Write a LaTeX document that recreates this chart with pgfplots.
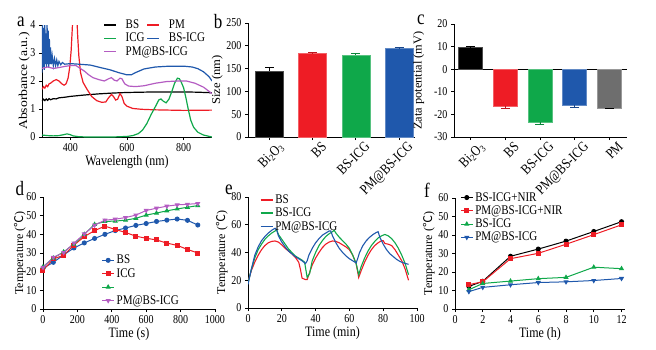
\documentclass[border=0pt]{standalone}
\usepackage{graphicx}
\usepackage{pgfplots}
\pgfplotsset{compat=1.18}
\usepackage{fontspec}
\setmainfont{Liberation Serif}
\newfontfamily\cjk{Noto Sans CJK SC}
\definecolor{cred}{HTML}{EE1C25}
\definecolor{cgreen}{HTML}{0FA84A}
\definecolor{cblue}{HTML}{1F58AC}
\definecolor{cpurple}{HTML}{B45CC2}
\definecolor{cgray}{HTML}{6E6E6E}
\newcommand{\degC}{{\cjk ℃}}
\newcommand{\vs}[1]{\scalebox{1}[1.2]{#1}}
\pgfplotsset{
  every axis/.append style={
    scale only axis, anchor=south west,
    axis lines=left, axis line style={-, line width=0.8pt},
    tick align=outside, major tick length=3pt,
    tick style={line width=0.8pt, black},
    tick label style={font=\fontsize{10}{10}\selectfont},
    label style={font=\fontsize{12}{12}\selectfont},
    /pgf/number format/assume math mode=true,
    /pgf/number format/1000 sep={},
    xticklabel={\vs{\pgfmathprintnumber{\tick}}},
    yticklabel={\vs{\pgfmathprintnumber{\tick}}},
    legend cell align=left,
    legend style={draw=none, fill=none, font=\fontsize{11}{11}\selectfont, inner sep=0pt, row sep=-1pt},
  },
  mklegend/.style={legend image code/.code={\draw[mark repeat=2,mark phase=2,##1] plot coordinates {(0pt,0pt)(6pt,0pt)(12pt,0pt)};}},
  lnlegend/.style={legend image code/.code={\draw[##1, line width=1.3pt] (0pt,0pt) -- (12pt,0pt);}},
  errstyle/.style={error bars/y explicit,
    error bars/error bar style={line width=0.8pt, #1},
    error bars/error mark options={#1, line width=0.8pt, mark size=4.5pt, rotate=90}},
  rotlabels/.style={x tick label style={rotate=45, anchor=north east, inner sep=0pt, xshift=5pt, yshift=-6pt, font=\fontsize{12}{12}\selectfont}},
}
\begin{document}
\begin{tikzpicture}
\path (0,0) rectangle (656pt,349pt);
% ---------------- panel a
\begin{axis}[at={(42pt,212pt)}, width=170pt, height=112pt,
  xmin=300, xmax=900, ymin=0, ymax=4,
  xtick={400,600,800}, ytick={0,1,2,3,4},
  xlabel={\vs{Wavelength (nm)}}, ylabel={\scalebox{1.14}[1]{Absorbance (a.u.)}},
  xlabel style={yshift=3pt}, ylabel style={yshift=-6pt},
  lnlegend,
  legend columns=2,
  legend style={at={(0.36,1.065)}, anchor=north west, /tikz/every odd column/.append style={column sep=7pt}},
  every axis plot/.append style={line width=1.2pt}]
\addplot[black] coordinates {(300,1.28)(305,1.35)(310,1.3)(315,1.36)(320,1.31)(325,1.37)(330,1.33)(340,1.37)(350,1.36)(360,1.4)(380,1.42)(400,1.45)(450,1.5)(500,1.54)(550,1.57)(600,1.59)(650,1.6)(700,1.61)(750,1.61)(800,1.61)(850,1.6)(900,1.58)};
\addlegendentry{\vs{BS}}
\addplot[cred] coordinates {(300,1.7)(305,1.8)(310,1.75)(315,1.85)(320,1.8)(325,1.9)(330,1.92)(340,2.0)(350,2.05)(360,2.0)(370,1.9)(378,1.85)(385,1.9)(392,2.1)(398,2.5)(403,3.1)(407,3.9)(410,4.5)(422,4.5)(426,3.6)(430,2.9)(436,2.3)(445,1.95)(458,1.72)(475,1.45)(493,1.3)(510,1.24)(525,1.25)(535,1.4)(545,1.52)(552,1.45)(560,1.32)(567,1.35)(575,1.55)(582,1.45)(590,1.2)(600,1.1)(620,1.02)(650,0.99)(700,0.97)(800,0.95)(900,0.96)};
\addlegendentry{\vs{PM}}
\addplot[cgreen] coordinates {(300,0.07)(320,0.05)(340,0.04)(360,0.05)(375,0.08)(388,0.11)(398,0.09)(410,0.04)(430,0.01)(460,0)(500,0)(550,0)(600,0.02)(620,0.05)(640,0.12)(655,0.25)(670,0.48)(685,0.8)(700,1.08)(712,1.32)(720,1.36)(728,1.28)(738,1.22)(748,1.35)(758,1.62)(768,1.92)(778,2.1)(785,2.08)(792,1.95)(800,1.75)(808,1.4)(816,1.0)(825,0.6)(835,0.35)(850,0.17)(870,0.07)(900,0.0)};
\addlegendentry{\vs{ICG}}
\addplot[cblue] coordinates {(300,2.3)(302,4.0)(304,2.5)(306,3.9)(308,2.4)(310,4.0)(312,2.6)(314,3.7)(316,2.5)(318,4.0)(320,2.6)(322,3.8)(324,2.5)(326,3.5)(328,2.6)(330,3.2)(333,2.6)(336,2.9)(340,2.55)(344,2.8)(348,2.55)(352,2.75)(356,2.55)(360,2.7)(366,2.58)(372,2.66)(380,2.6)(400,2.62)(430,2.6)(470,2.57)(510,2.47)(540,2.4)(570,2.3)(600,2.22)(615,2.22)(630,2.3)(660,2.43)(700,2.5)(750,2.53)(800,2.53)(830,2.5)(850,2.44)(870,2.33)(890,2.15)(900,2.0)};
\addlegendentry{\vs{BS-ICG}}
\addplot[cpurple] coordinates {(300,2.45)(320,2.5)(340,2.45)(360,2.48)(380,2.52)(400,2.55)(420,2.55)(435,2.45)(450,2.35)(465,2.22)(480,2.12)(500,2.05)(520,2.0)(535,2.08)(545,2.12)(555,2.03)(565,2.0)(575,2.1)(582,2.08)(592,1.9)(605,1.82)(630,1.8)(660,1.83)(700,1.92)(740,1.98)(780,2.0)(810,2.0)(840,1.92)(870,1.78)(900,1.55)};
\addlegendentry{\makebox[0pt][l]{\vs{PM@BS-ICG}}}
\end{axis}
% ---------------- panel b
\begin{axis}[at={(248pt,212pt)}, width=167pt, height=114pt,
  xmin=-0.5, xmax=3.37, ymin=0, ymax=250,
  ytick={0,50,...,250}, xtick={0,1,2,3},
  xticklabels={\vs{Bi\textsubscript{2}O\textsubscript{3}}, \vs{BS}, \vs{BS-ICG}, \vs{PM@BS-ICG}},
  rotlabels,
  ylabel={\scalebox{1.05}[1]{Size (nm)}}, ylabel style={yshift=-3pt},
  every axis plot/.append style={ybar, bar width=0.65, bar shift=0pt, line width=0.6pt}]
\addplot[fill=black, draw=black!70, errstyle=black, error bars/y dir=plus] coordinates {(0,145) +- (0,7)};
\addplot[fill=cred, draw=cred!70!white, errstyle=cred!80!black, error bars/y dir=plus] coordinates {(1,183) +- (0,2.5)};
\addplot[fill=cgreen, draw=cgreen!70!white, errstyle=cgreen!80!black, error bars/y dir=plus] coordinates {(2,180) +- (0,2.5)};
\addplot[fill=cblue, draw=cblue!70!white, errstyle=cblue!80!black, error bars/y dir=plus] coordinates {(3,194) +- (0,2)};
\end{axis}
% ---------------- panel c
\begin{axis}[at={(454pt,212pt)}, width=173pt, height=113pt,
  xmin=-0.48, xmax=4.51, ymin=-30, ymax=20,
  ytick={-30,-20,...,20}, xtick={0,1,2,3,4},
  xticklabels={\vs{Bi\textsubscript{2}O\textsubscript{3}}, \vs{BS}, \vs{BS-ICG}, \vs{PM@BS-ICG}, \vs{PM}},
  rotlabels,
  extra y ticks={0}, extra y tick labels={},
  extra y tick style={grid=major, major grid style={black, line width=0.8pt}},
  ylabel={\scalebox{1.03}[1]{Zata potential (mV)}}, ylabel style={yshift=-3pt},
  every axis plot/.append style={ybar, bar width=0.69, bar shift=0pt, line width=0.6pt}]
\addplot[fill=black, draw=black!70, errstyle=black, error bars/y dir=plus] coordinates {(0,9.5) +- (0,0.4)};
\addplot[fill=cred, draw=cred!70!white, errstyle=cred!80!black, error bars/y dir=minus] coordinates {(1,-16.3) +- (0,0.9)};
\addplot[fill=cgreen, draw=cgreen!70!white, errstyle=cgreen!80!black, error bars/y dir=minus] coordinates {(2,-23.4) +- (0,0.9)};
\addplot[fill=cblue, draw=cblue!70!white, errstyle=cblue!80!black, error bars/y dir=minus] coordinates {(3,-15.9) +- (0,0.8)};
\addplot[fill=cgray, draw=cgray!70!white, errstyle=black, error bars/y dir=minus] coordinates {(4,-17.2) +- (0,0.3)};
\end{axis}
% ---------------- panel d
\begin{axis}[at={(43pt,40pt)}, width=172pt, height=112pt,
  xmin=0, xmax=1000, ymin=0, ymax=60,
  xtick={0,200,...,1000}, ytick={0,10,...,60},
  xlabel={\vs{Time (s)}}, ylabel={Temperature (\degC)},
  xlabel style={yshift=3pt}, ylabel style={yshift=-6pt},
  mklegend,
  legend style={at={(0.34,0.50)}, anchor=north west},
  every axis plot/.append style={line width=1pt, mark size=2pt}]
\addplot[cblue, mark=*] coordinates {(0,21.8)(60,25)(120,29)(180,32.7)(240,35.4)(300,37.8)(360,40)(420,42)(480,43.4)(540,44.8)(600,45.8)(660,46.9)(720,47.6)(780,48.2)(840,47.5)(900,45)};
\addlegendentry{\vs{BS}}
\addplot[cred, mark=square*] coordinates {(0,20.7)(60,26.8)(120,28.8)(180,34.2)(240,38.8)(300,42)(360,44.4)(420,42.6)(480,41)(540,39)(600,37.9)(660,37)(720,35.3)(780,34.1)(840,31.9)(900,30)};
\addlegendentry{\vs{ICG}}
\addplot[cgreen, mark=triangle*] coordinates {(0,22.6)(60,27.3)(120,30.6)(180,34.7)(240,40)(300,45.3)(360,46.9)(420,47.1)(480,47.6)(540,48.6)(600,50.3)(660,51.4)(720,52.6)(780,53.6)(840,54.5)(900,55.4)};
\addlegendentry{\vs{\strut}}
\addplot[cpurple, mark=triangle*, mark options={rotate=180}] coordinates {(0,22.3)(60,27.7)(120,30.2)(180,35.3)(240,40.2)(300,44.9)(360,47.6)(420,48.1)(480,49)(540,50.3)(600,52.8)(660,54)(720,55.1)(780,55.8)(840,56.1)(900,56.5)};
\addlegendentry{\vs{PM@BS-ICG}}
\end{axis}
% ---------------- panel e
\begin{axis}[at={(248pt,41pt)}, width=169pt, height=111pt,
  xmin=0, xmax=100, ymin=0, ymax=80,
  xtick={0,20,...,100}, ytick={0,20,...,80},
  xlabel={\vs{Time (min)}}, ylabel={Temperature (\degC)},
  xlabel style={yshift=3pt}, ylabel style={yshift=-3pt},
  lnlegend,
  legend style={at={(0.07,1.04)}, anchor=north west},
  every axis plot/.append style={line width=1.1pt}]
\addplot[cred] coordinates {(0,19)(2,27)(4,33)(6,38)(8,42)(10,45)(12,47)(14,48)(16,48.3)(18,47.5)(20,45.5)(22,43)(24,41)(26,39)(28,36.5)(30,33)(31,28)(32,21.5)(34,20.5)(35,20.5)(36,24)(38,31)(40,36)(42,40)(44,43.5)(46,46)(48,47.5)(50,48.3)(52,48)(54,47)(56,45.5)(58,44)(60,42)(62,38)(64,32)(65.5,22)(67,27)(69,33)(71,38)(73,42)(75,45)(77,47)(79,48.5)(80,48.5)(81,46.5)(83,46)(85,45)(87,42)(89,38)(91,34)(93,28)(95,20)};
\addlegendentry{\vs{BS}}
\addplot[cgreen] coordinates {(0,18)(2,28)(4,36)(6,42)(8,46)(10,49.5)(12,52)(14,54)(16,55.5)(17,56.5)(18,53)(20,49.5)(22,46)(24,42.5)(26,40)(28,37.5)(30,36)(32,34.5)(33.5,33)(35,22)(36.5,25)(38,34)(40,40)(42,45)(44,48.5)(46,51.5)(48,53.5)(50,55)(51,56)(52,54)(54,51)(56,48.5)(58,46)(60,43)(62,38)(64,32)(65.5,24)(67,30)(69,36)(71,41)(73,45)(75,48)(77,50.5)(79,52)(81,53)(83,52)(85,50)(87,47)(89,43)(91,38)(93,32)(95,24)};
\addlegendentry{\vs{BS-ICG}}
\addplot[cblue] coordinates {(0,17)(2,28)(4,38)(6,44)(8,48.5)(10,51.5)(12,54)(14,56)(16,57.5)(17,56)(18,52)(20,47.5)(22,44)(24,41)(26,39)(28,37)(30,35.5)(32,34)(34,32)(35,34)(36,38)(38,43)(40,47)(42,50)(44,52.5)(46,54)(48,55.5)(49,55.5)(50,52)(52,47)(54,43)(56,40)(58,37.5)(60,35.5)(62,34)(64,32.5)(65,36)(66,40)(68,45)(70,48.5)(72,51)(74,53)(76,54.5)(77,55)(78,51)(80,46)(82,42)(84,39)(86,37)(88,35)(90,33.5)(92,32.5)(94,31.8)(95,31.5)};
\addlegendentry{\vs{PM@BS-ICG}}
\end{axis}
% ---------------- panel f
\begin{axis}[at={(455pt,40pt)}, width=170pt, height=111pt,
  xmin=0, xmax=12.25, ymin=0, ymax=60,
  xtick={0,2,...,12}, ytick={0,10,...,60},
  xlabel={\vs{Time (h)}}, ylabel={Temperature (\degC)},
  xlabel style={yshift=3pt}, ylabel style={yshift=-3pt},
  mklegend,
  legend style={at={(0.03,1.07)}, anchor=north west},
  every axis plot/.append style={line width=1pt, mark size=2pt}]
\addplot[black, mark=*] coordinates {(1,12.2)(2,15)(4,28.5)(6,32.4)(8,36.7)(10,41.9)(12,47.2)};
\addlegendentry{\vs{BS-ICG+NIR}}
\addplot[cred, mark=square*] coordinates {(1,13.2)(2,14.7)(4,27.2)(6,30.1)(8,35)(10,40.2)(12,45.5)};
\addlegendentry{\vs{PM@BS-ICG+NIR}}
\addplot[cgreen, mark=triangle*] coordinates {(1,10.4)(2,13.8)(4,15.1)(6,16.4)(8,17.1)(10,22.6)(12,21.8)};
\addlegendentry{\vs{BS-ICG}}
\addplot[cblue, mark=triangle*, mark options={rotate=180}] coordinates {(1,9.4)(2,11.7)(4,13.1)(6,14.3)(8,14.7)(10,15.4)(12,16.5)};
\addlegendentry{\vs{PM@BS-ICG}}
\end{axis}
% panel letters
\node[font=\fontsize{17}{17}\selectfont] at (21pt,327pt) {\vs{a}};
\node[font=\fontsize{17}{17}\selectfont] at (218pt,327pt) {\vs{b}};
\node[font=\fontsize{17}{17}\selectfont] at (421pt,329pt) {\vs{c}};
\node[font=\fontsize{17}{17}\selectfont] at (20pt,160pt) {\vs{d}};
\node[font=\fontsize{17}{17}\selectfont] at (229pt,159pt) {\vs{e}};
\node[font=\fontsize{17}{17}\selectfont] at (427pt,159pt) {\vs{f}};
\pgfresetboundingbox
\path (0,0) rectangle (656pt,349pt);
\end{tikzpicture}
\end{document}
